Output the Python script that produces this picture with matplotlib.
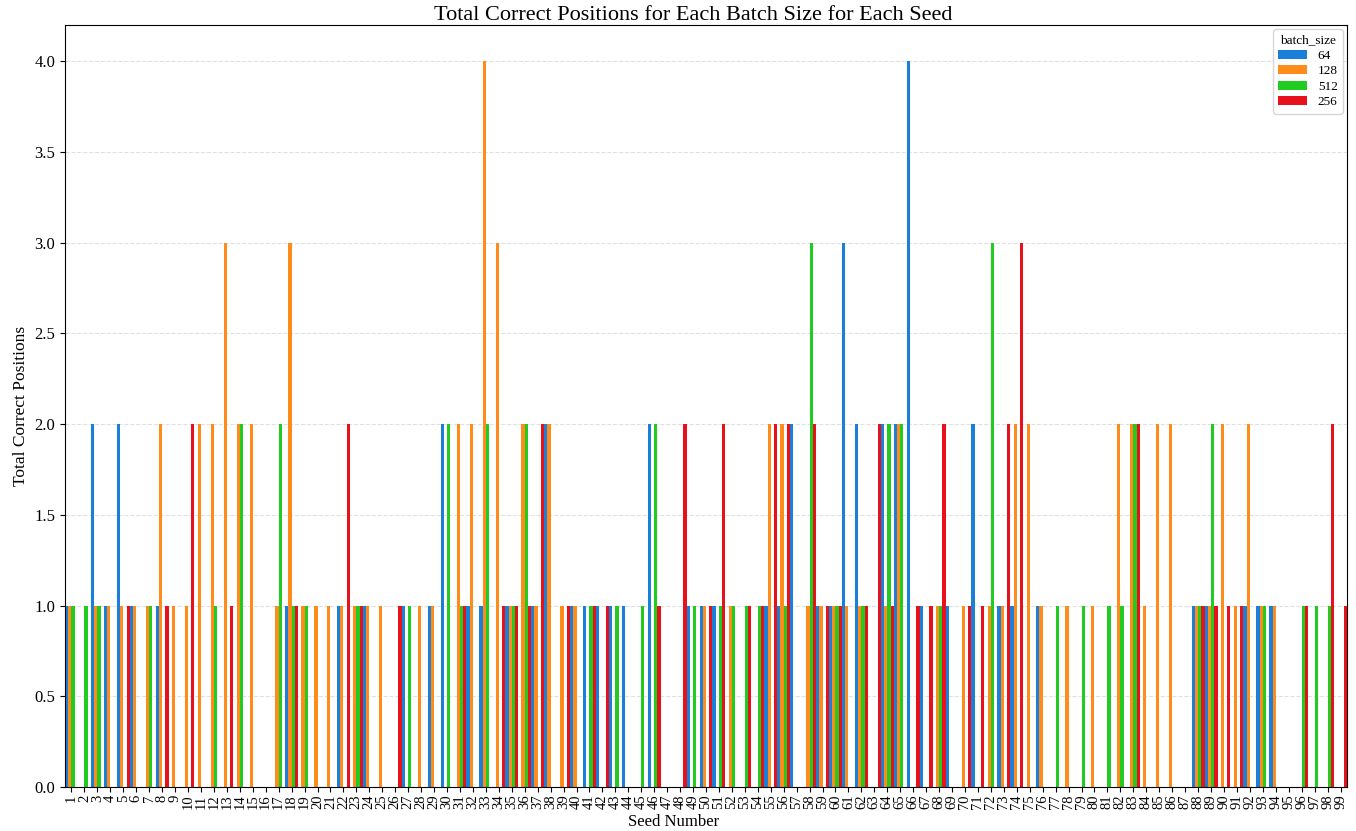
import numpy as np
import matplotlib
matplotlib.use("Agg")
import matplotlib.pyplot as plt

plt.rcParams['font.family'] = ['Liberation Serif', 'DejaVu Serif']

seeds = list(range(1, 100))
batch_sizes = ['64', '128', '512', '256']
colors = ['#1a7fd9', '#ff8c1a', '#1fcc1f', '#e8101a']

# totals per seed 1..99 for each batch size
bs_64 = [1, 0, 2, 1, 2, 1, 0, 1, 0, 0,
         0, 0, 0, 0, 0, 0, 0, 1, 0, 0,
         0, 1, 0, 1, 0, 0, 1, 0, 1, 2,
         0, 1, 1, 0, 1, 0, 1, 2, 0, 1,
         1, 1, 1, 1, 0, 2, 0, 0, 1, 1,
         1, 0, 0, 0, 1, 1, 2, 0, 1, 1,
         3, 2, 0, 2, 2, 4, 1, 0, 1, 0,
         2, 0, 1, 1, 0, 1, 0, 0, 0, 0,
         0, 0, 0, 0, 0, 0, 0, 1, 1, 0,
         0, 1, 1, 1, 0, 0, 0, 0, 0]
bs_128 = [1, 0, 1, 1, 1, 1, 1, 2, 1, 1,
          2, 2, 3, 2, 2, 0, 1, 3, 1, 1,
          1, 1, 1, 1, 1, 0, 0, 1, 1, 0,
          2, 2, 4, 3, 1, 2, 1, 2, 1, 1,
          0, 0, 0, 0, 0, 0, 0, 0, 0, 1,
          0, 1, 0, 0, 2, 2, 0, 1, 1, 1,
          1, 1, 0, 1, 2, 0, 0, 1, 0, 1,
          0, 1, 1, 2, 2, 1, 0, 1, 0, 1,
          0, 2, 2, 1, 2, 2, 0, 1, 1, 2,
          1, 2, 1, 1, 0, 0, 0, 0, 0]
bs_512 = [1, 1, 1, 0, 0, 0, 1, 0, 0, 0,
          0, 1, 0, 2, 0, 0, 2, 1, 1, 0,
          0, 0, 1, 0, 0, 0, 1, 0, 0, 2,
          1, 0, 2, 0, 1, 2, 0, 0, 0, 0,
          1, 0, 1, 0, 1, 2, 0, 0, 1, 0,
          1, 1, 1, 1, 0, 1, 0, 3, 0, 1,
          0, 1, 0, 2, 2, 0, 0, 1, 0, 0,
          0, 3, 0, 0, 0, 0, 1, 0, 1, 0,
          1, 1, 2, 0, 0, 0, 0, 1, 2, 0,
          0, 0, 1, 0, 0, 1, 1, 1, 0]
bs_256 = [0, 0, 0, 0, 1, 0, 0, 1, 0, 2,
          0, 0, 1, 0, 0, 0, 0, 1, 0, 0,
          0, 2, 1, 0, 0, 1, 0, 0, 0, 0,
          1, 0, 0, 1, 1, 1, 2, 0, 1, 0,
          1, 1, 0, 0, 0, 1, 0, 2, 0, 1,
          2, 0, 1, 1, 2, 2, 0, 2, 1, 1,
          0, 1, 2, 1, 0, 1, 1, 2, 0, 1,
          1, 0, 2, 3, 0, 0, 0, 0, 0, 0,
          0, 0, 2, 0, 0, 0, 0, 1, 1, 1,
          1, 0, 0, 0, 0, 1, 0, 2, 1]

series = [bs_64, bs_128, bs_512, bs_256]

fig = plt.figure(figsize=(13.56, 8.31), dpi=100)
ax = fig.add_axes([65 / 1356, 1 - 787 / 831, 1282 / 1356, 762 / 831])

x = np.arange(len(seeds))
w = 1.0 / len(series)
for i, (vals, lab, c) in enumerate(zip(series, batch_sizes, colors)):
    ax.bar(x - 0.5 + w * (i + 0.5), vals, width=w, color=c, label=lab)

ax.set_xlim(-0.5, len(seeds) - 0.5)
ax.set_ylim(0, 4.2)
ax.set_xticks(x)
ax.set_xticklabels([str(s) for s in seeds], rotation=90, fontsize=10.5)
ax.tick_params(axis='x', pad=2)
ax.tick_params(axis='y', labelsize=12)
ax.set_yticks(np.arange(0, 4.01, 0.5))
ax.set_yticklabels(['%.1f' % v for v in np.arange(0, 4.01, 0.5)])
ax.yaxis.grid(True, linestyle='--', color='#cccccc', alpha=0.6)
ax.set_axisbelow(True)

ax.set_title('Total Correct Positions for Each Batch Size for Each Seed',
             fontsize=16, pad=3, x=0.49)
ax.set_xlabel('Seed Number', fontsize=12)
ax.xaxis.set_label_coords(0.475, -0.036)
ax.set_ylabel('Total Correct Positions', fontsize=12.5)
ax.legend(title='batch_size', loc='upper right', fontsize=9.5, title_fontsize=9.5,
          labelspacing=0.25, handlelength=2.2, borderaxespad=0.3)

fig.savefig('out.png', dpi=100)
